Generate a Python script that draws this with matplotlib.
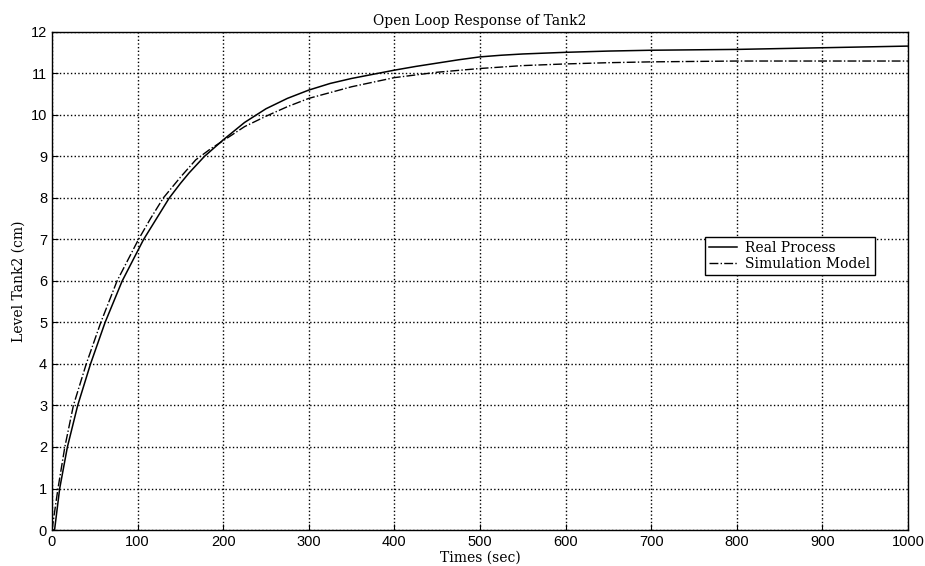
import matplotlib.pyplot as plt

# Measured level of tank 2 (cm) against time (s)
t_real = [0, 3, 9, 18, 30, 45, 62, 82, 107, 125, 137, 150, 160, 178, 200,
          225, 250, 275, 300, 325, 350, 375, 400, 425, 450, 475, 500, 525,
          550, 600, 650, 700, 750, 800, 850, 900, 950, 1000]
level_real = [0, 0, 1, 2, 3, 4, 5, 6, 7, 7.6, 8, 8.35, 8.6, 9, 9.4,
              9.82, 10.15, 10.4, 10.6, 10.76, 10.88, 10.98, 11.08, 11.17, 11.25, 11.33, 11.4, 11.44,
              11.47, 11.51, 11.54, 11.56, 11.57, 11.58, 11.6, 11.62, 11.64, 11.66]

# Model output for the same step
t_sim = [0, 7, 15, 25, 40, 57, 76, 101, 115, 130, 150, 168, 185, 200, 225, 250,
         275, 300, 350, 400, 450, 500, 550, 600, 650, 700, 750, 800, 900, 1000]
level_sim = [0, 1, 2, 3, 4, 5, 6, 7, 7.5, 8, 8.5, 8.92, 9.18, 9.38, 9.72, 9.97,
             10.2, 10.4, 10.68, 10.9, 11.03, 11.12, 11.19, 11.23, 11.26, 11.28, 11.29, 11.3, 11.3, 11.3]

serif = 'DejaVu Serif'
sans = 'Liberation Sans'

fig = plt.figure(figsize=(9.25, 5.66), dpi=100)
ax = fig.add_axes([0.0562, 0.0636, 0.9254, 0.8799])

ax.plot(t_real, level_real, color='black', lw=1.1, label='Real Process')
ax.plot(t_sim, level_sim, color='black', lw=1.0, ls='-.', label='Simulation Model')

ax.set_xlim(0, 1000)
ax.set_ylim(0, 12)
ax.set_xticks(range(0, 1001, 100))
ax.set_yticks(range(0, 13))
ax.grid(True, color='black', ls=':', lw=1.0)
ax.tick_params(direction='in', length=4, labelsize=10.5, top=False, right=False)
for lab in ax.get_xticklabels() + ax.get_yticklabels():
    lab.set_family(sans)
for s in ax.spines.values():
    s.set_linewidth(1.0)

ax.set_title('Open Loop Response of Tank2', family=serif, fontsize=10, pad=5)
ax.set_xlabel('Times (sec)', family=serif, fontsize=10, labelpad=1)
ax.set_ylabel('Level Tank2 (cm)', family=serif, fontsize=10, labelpad=4)

leg = ax.legend(loc='upper left', bbox_to_anchor=(0.763, 0.588), fancybox=False,
                framealpha=1, edgecolor='black', borderaxespad=0,
                prop={'family': serif, 'size': 10}, handlelength=2.0,
                borderpad=0.3, labelspacing=0.1, handletextpad=0.6)
leg.get_frame().set_linewidth(1.0)

plt.savefig('out.png', dpi=100)
